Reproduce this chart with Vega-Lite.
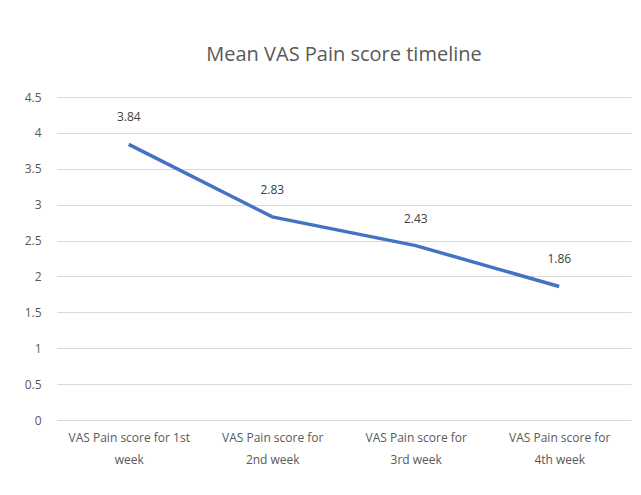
{
  "$schema": "https://vega.github.io/schema/vega-lite/v6.json",
  "width": 574,
  "height": 323,
  "autosize": "none",
  "padding": {"left": 57, "top": 97, "right": 10, "bottom": 75},
  "background": "white",
  "data": {"values": [
    {"week": "VAS Pain score for 1st|week", "score": 3.84},
    {"week": "VAS Pain score for|2nd week", "score": 2.83},
    {"week": "VAS Pain score for|3rd week", "score": 2.43},
    {"week": "VAS Pain score for|4th week", "score": 1.86}
  ]},
  "title": {
    "text": "Mean VAS Pain score timeline",
    "font": "Open Sans",
    "fontSize": 20,
    "fontWeight": "normal",
    "color": "#595959",
    "offset": 26,
    "anchor": "middle"
  },
  "encoding": {
    "x": {
      "field": "week", "type": "nominal", "sort": null,
      "scale": {"paddingInner": 0, "paddingOuter": 0},
      "axis": {
        "title": null, "labelAngle": 0, "ticks": false, "domain": true,
        "domainColor": "#d9d9d9", "labelExpr": "split(datum.label, '|')",
        "labelFont": "Open Sans", "labelFontSize": 12, "labelColor": "#595959",
        "labelPadding": 12, "labelLineHeight": 22
      }
    },
    "y": {
      "field": "score", "type": "quantitative",
      "scale": {"domain": [0, 4.5]},
      "axis": {
        "title": null, "values": [0, 0.5, 1, 1.5, 2, 2.5, 3, 3.5, 4, 4.5],
        "format": "~g",
        "domain": false, "ticks": false, "gridColor": "#d9d9d9",
        "labelFont": "Open Sans", "labelFontSize": 12, "labelColor": "#595959",
        "labelPadding": 16
      }
    }
  },
  "layer": [
    {"mark": {"type": "line", "color": "#4472C4", "strokeWidth": 3.5}},
    {"mark": {"type": "text", "dy": -27, "font": "Open Sans", "fontSize": 12, "color": "#404040"},
     "encoding": {"text": {"field": "score", "type": "quantitative", "format": ".2f"}}}
  ],
  "config": {"view": {"stroke": null}}
}
